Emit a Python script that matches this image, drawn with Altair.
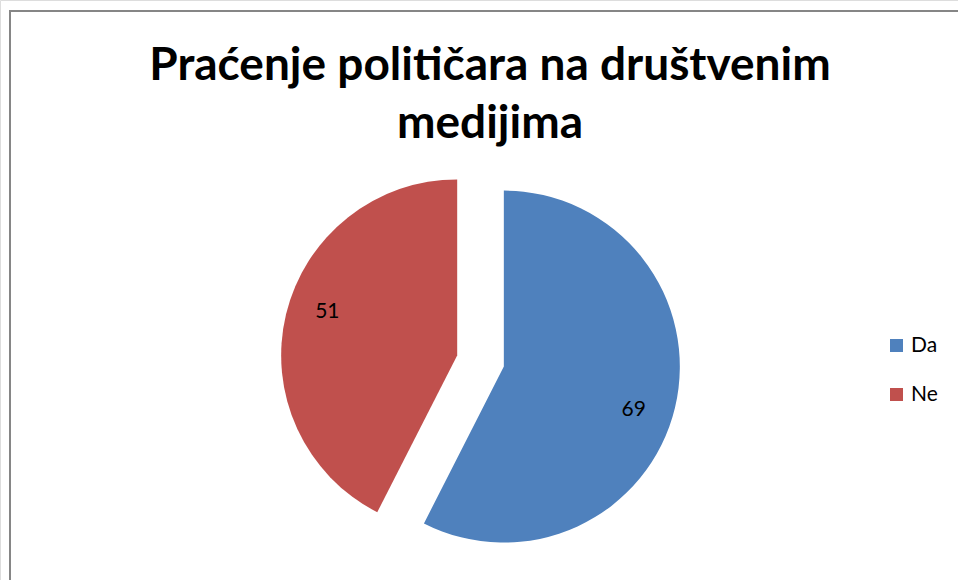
import altair as alt
import pandas as pd

categories = ["Da", "Ne"]
values = [69, 51]
colors = ["#4F81BD", "#C0504D"]
title_lines = ["Praćenje političara na društvenim", "medijima"]

df = pd.DataFrame({"kategorija": categories, "vrijednost": values, "red": list(range(len(categories)))})
tdf = pd.DataFrame({"tekst": title_lines, "i": list(range(len(title_lines)))})

W, H = 958, 580
CX, CY = 480.5, 361
R = 176
EXPLODE = 24
LABEL_R = 137
LABEL_SHIFT = 0.09

base = alt.Chart(df).transform_joinaggregate(
    ukupno="sum(vrijednost)"
).transform_window(
    kum="sum(vrijednost)", sort=[alt.SortField("red")]
).transform_calculate(
    t0="(datum.kum - datum.vrijednost) / datum.ukupno * 2 * PI",
    t1="datum.kum / datum.ukupno * 2 * PI",
).transform_calculate(
    mid="(datum.t0 + datum.t1) / 2"
).transform_calculate(
    cx=f"{CX} + {EXPLODE} * sin(datum.mid)",
    cy=f"{CY} - {EXPLODE} * cos(datum.mid)",
).transform_calculate(
    lx=f"datum.cx + {LABEL_R} * sin(datum.mid + {LABEL_SHIFT})",
    ly=f"datum.cy - {LABEL_R} * cos(datum.mid + {LABEL_SHIFT})",
)

color = alt.Color(
    "kategorija:N",
    scale=alt.Scale(domain=categories, range=colors),
    legend=alt.Legend(
        title=None, orient="none", legendX=886, legendY=335,
        symbolType="square", symbolSize=169, symbolStrokeWidth=0,
        labelFontSize=21, labelFont="Lato", labelColor="#000000",
        labelOffset=4, rowPadding=27, padding=0,
    ),
)

arcs = base.mark_arc(radius=R, stroke=None).encode(
    theta=alt.Theta("t0:Q", scale=None),
    theta2="t1:Q",
    x=alt.X("cx:Q", scale=None),
    y=alt.Y("cy:Q", scale=None),
    color=color,
)

labels = base.mark_text(font="Lato", fontSize=21, color="#000000", align="center", baseline="middle").encode(
    x=alt.X("lx:Q", scale=None),
    y=alt.Y("ly:Q", scale=None),
    text="vrijednost:Q",
)

title = alt.Chart(tdf).transform_calculate(
    ty="80 + datum.i * 58"
).mark_text(font="Lato", fontSize=46, fontWeight="bold", color="#000000", align="center", baseline="alphabetic").encode(
    x=alt.value(490),
    y=alt.Y("ty:Q", scale=None),
    text="tekst:N",
)

border = alt.Chart(pd.DataFrame({"a": [0]})).mark_rect(fillOpacity=0, stroke="#868686", strokeWidth=2).encode(
    x=alt.value(10), y=alt.value(11), x2=alt.value(W + 20), y2=alt.value(H + 20)
)

chart = alt.layer(border, arcs, labels, title).properties(
    width=W, height=H,
    autosize=alt.AutoSizeParams(type="none"),
    padding=0,
).configure_view(stroke=None).configure(background="#ffffff")

chart.save("out.html", embed_options={"renderer": "svg", "actions": False})
